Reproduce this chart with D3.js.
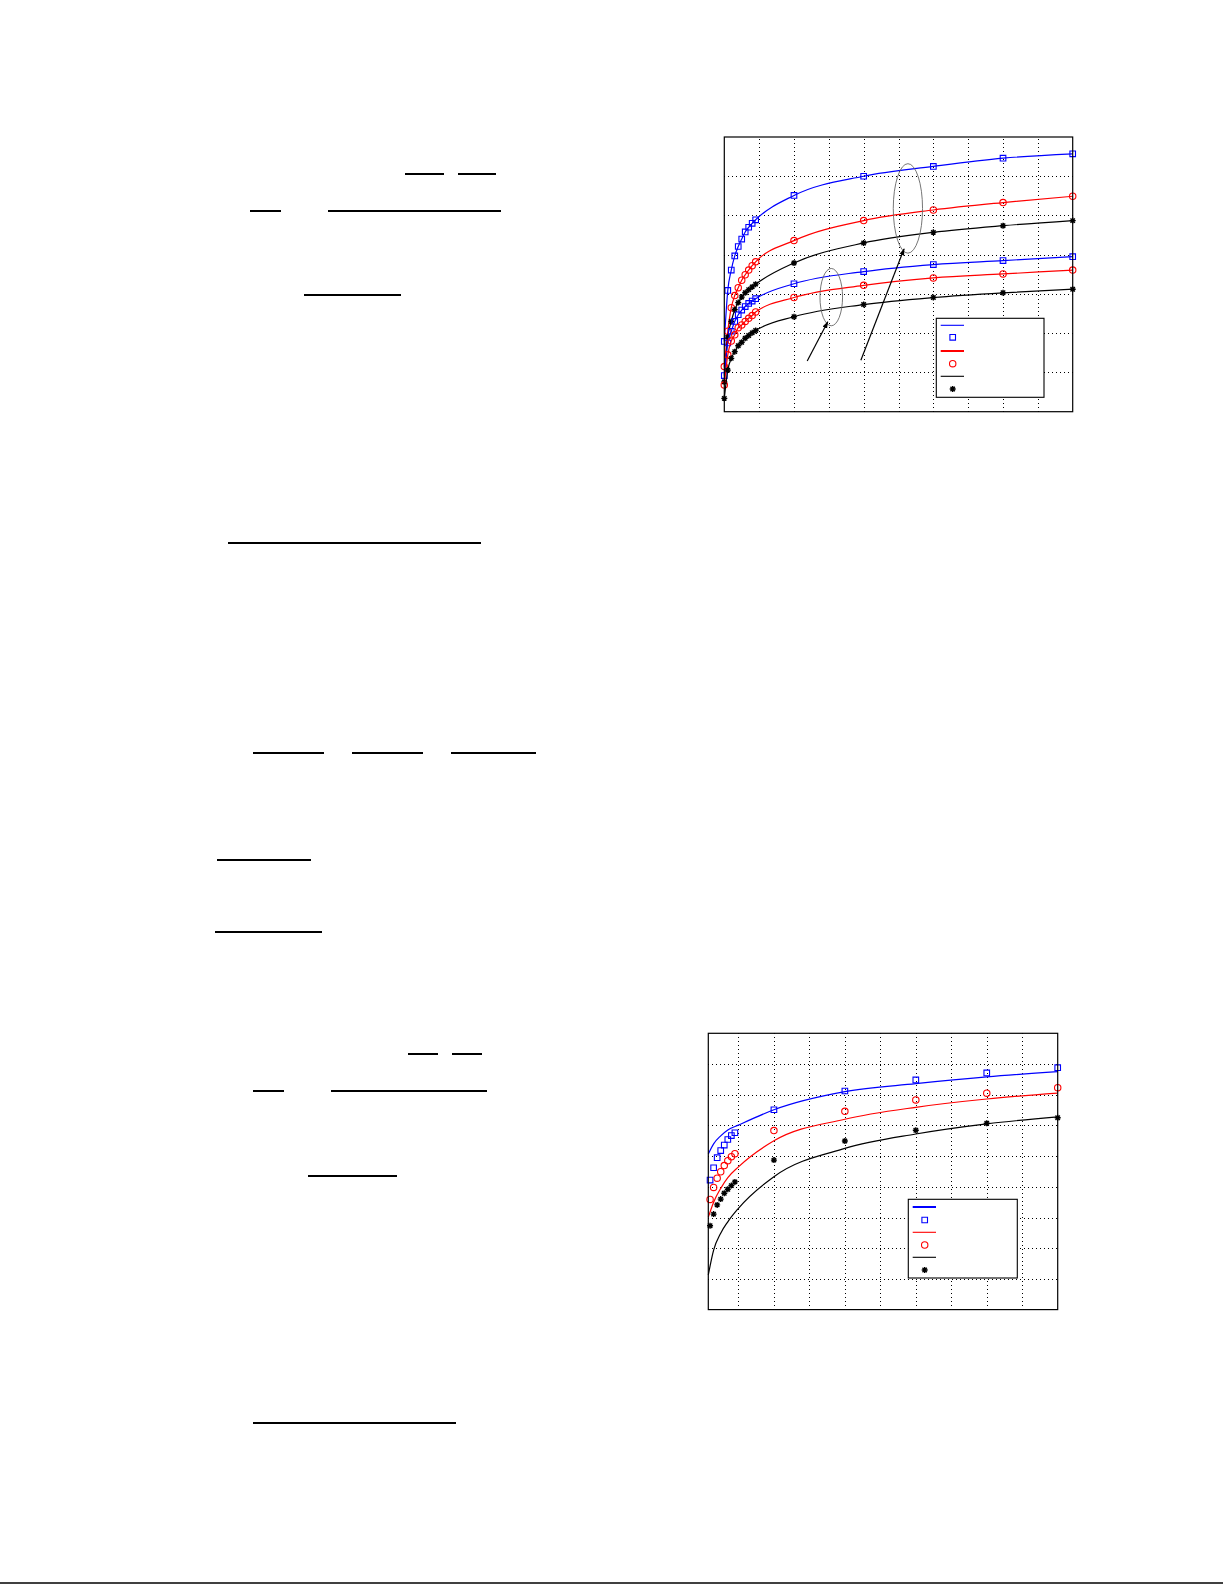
<!DOCTYPE html>
<html>
<head>
<meta charset="utf-8">
<script src="https://cdn.jsdelivr.net/npm/d3@7"></script>
<style>
html, body { margin: 0; padding: 0; background: #fff; }
#page { position: relative; width: 1225px; height: 1585px; overflow: hidden; }
.grid line { stroke: #000; stroke-width: 1; stroke-dasharray: 1,3; shape-rendering: crispEdges; }
.grid path { display: none; }
</style>
</head>
<body>
<div id="page"></div>
<script>
// upper figure: sample positions and the six curves (two groups of three)
const top_x = [0, 1, 2, 3, 4, 5, 6, 7, 8, 9, 20, 40, 60, 80, 100];
const top_blue_upper = [1.79, 3.09, 3.61, 3.97, 4.21, 4.40, 4.58, 4.70, 4.80, 4.89, 5.51, 6.00, 6.25, 6.46, 6.57];
const top_red_upper = [1.15, 2.05, 2.65, 2.96, 3.16, 3.35, 3.49, 3.61, 3.72, 3.82, 4.36, 4.87, 5.14, 5.33, 5.49];
const top_black_upper = [0.76, 1.90, 2.30, 2.60, 2.78, 2.92, 3.03, 3.11, 3.18, 3.25, 3.79, 4.30, 4.57, 4.74, 4.87];
const top_blue_lower = [0.92, 1.75, 2.05, 2.30, 2.47, 2.59, 2.68, 2.76, 2.82, 2.88, 3.26, 3.57, 3.75, 3.85, 3.95];
const top_red_lower = [0.68, 1.45, 1.80, 1.96, 2.14, 2.21, 2.30, 2.38, 2.45, 2.54, 2.91, 3.22, 3.41, 3.51, 3.61];
const top_black_lower = [0.34, 1.06, 1.36, 1.53, 1.68, 1.77, 1.87, 1.94, 2.01, 2.07, 2.42, 2.73, 2.91, 3.03, 3.12];
const top_x_ticks = [10, 20, 30, 40, 50, 60, 70, 80, 90];
const top_y_ticks = [1, 2, 3, 4, 5, 6];

// upper figure annotations, in data units
const top_ellipses = [
	{cx: 30.7, cy: 2.92, rx: 3.24, ry: 0.73},
	{cx: 52.7, cy: 5.18, rx: 4.2, ry: 1.14}
];
const top_arrows = [
	{x1: 23.8, y1: 1.29, x2: 29.7, y2: 2.29},
	{x1: 39.2, y1: 1.31, x2: 51.6, y2: 4.15}
];

// lower figure: simulated points and the model curves
const bot_x = [2, 3, 4, 5, 6, 7, 8, 9, 20, 40, 60, 80, 100];
const bot_blue = [4.22, 4.62, 4.95, 5.18, 5.36, 5.54, 5.67, 5.76, 6.51, 7.12, 7.48, 7.71, 7.88];
const bot_red = [3.59, 3.98, 4.28, 4.49, 4.69, 4.85, 4.98, 5.08, 5.83, 6.46, 6.83, 7.05, 7.23];
const bot_black = [2.73, 3.11, 3.41, 3.60, 3.79, 3.92, 4.04, 4.16, 4.87, 5.49, 5.84, 6.07, 6.25];
const bot_line_x = [1.5, 3, 5, 7, 10, 20, 40, 60, 80, 100];
const bot_blue_line = [5.07, 5.40, 5.66, 5.85, 6.01, 6.51, 7.10, 7.36, 7.58, 7.75];
const bot_red_line = [3.01, 3.50, 3.95, 4.30, 4.65, 5.50, 6.20, 6.59, 6.86, 7.05];
const bot_black_line = [1.13, 1.94, 2.49, 2.86, 3.30, 4.33, 5.25, 5.72, 6.05, 6.28];
const bot_x_ticks = [10, 20, 30, 40, 50, 60, 70, 80, 90];
const bot_y_ticks = [1, 2, 3, 4, 5, 6, 7, 8];

// fraction bars and the footer rule left on the page: [x1, x2, y, width]
const page_rules = [
	[405, 444, 174, 2], [458, 496, 174, 2], [250, 281, 211, 2], [328, 501, 211, 2],
	[304, 401, 295, 2], [228, 481, 543, 2], [253, 324, 753, 2], [352, 423, 753, 2],
	[451, 536, 753, 2], [217, 311, 860, 2], [215, 322, 932, 2], [408, 438, 1054, 2],
	[452, 482, 1054, 2], [253, 284, 1091, 2], [331, 487, 1091, 2], [308, 397, 1176, 2],
	[253, 456, 1423, 2], [0, 1223, 1583, 1.5]
];

const marker_path = {
	square: "M-2.8,-2.8h5.6v5.6h-5.6z",
	circle: "M3.2,0A3.2,3.2 0 1,1 -3.2,0A3.2,3.2 0 1,1 3.2,0",
	star: "M-3,0H3M0,-3V3M-2.2,-2.2L2.2,2.2M-2.2,2.2L2.2,-2.2"
};

var svg = d3.select("#page").append("svg")
	.attr("width", 1225)
	.attr("height", 1585);

svg.append("defs").append("marker")
	.attr("id", "arrowhead")
	.attr("viewBox", "0 0 10 10")
	.attr("refX", 9).attr("refY", 5)
	.attr("markerWidth", 6).attr("markerHeight", 6)
	.attr("orient", "auto")
	.append("path")
	.attr("d", "M0,1.5L10,5L0,8.5z")
	.attr("fill", "#000");

svg.selectAll("line.rule")
	.data(page_rules)
	.enter()
	.append("line")
	.attr("class", "rule")
	.attr("x1", d => d[0]).attr("x2", d => d[1])
	.attr("y1", d => d[2]).attr("y2", d => d[2])
	.attr("stroke", "#000")
	.attr("stroke-width", d => d[3]);

function draw_chart(cfg) {
	var g = svg.append("g").attr("transform", "translate(" + cfg.left + "," + cfg.top + ")");
	var x = d3.scaleLinear().domain(cfg.x_domain).range([0, cfg.width]);
	var y = d3.scaleLinear().domain(cfg.y_domain).range([cfg.height, 0]);

	g.append("g")
		.attr("class", "grid")
		.attr("transform", "translate(0," + cfg.height + ")")
		.call(d3.axisBottom(x).tickValues(cfg.x_ticks).tickSize(-cfg.height).tickFormat(""));
	g.append("g")
		.attr("class", "grid")
		.call(d3.axisLeft(y).tickValues(cfg.y_ticks).tickSize(-cfg.width).tickFormat(""));

	var line = d3.line()
		.curve(d3.curveMonotoneX)
		.x(d => x(d[0]))
		.y(d => y(d[1]));

	cfg.series.forEach(function (s) {
		g.append("path")
			.datum(d3.zip(s.line_x, s.line_y))
			.attr("fill", "none")
			.attr("stroke", s.color)
			.attr("stroke-width", 1.2)
			.attr("d", line);

		g.append("g").selectAll("path")
			.data(d3.zip(s.x, s.y))
			.enter()
			.append("path")
			.attr("transform", d => "translate(" + x(d[0]) + "," + y(d[1]) + ")")
			.attr("d", marker_path[s.marker])
			.attr("fill", "none")
			.attr("stroke", s.color)
			.attr("stroke-width", s.marker == "star" ? 1.4 : 1.1);
	});

	(cfg.ellipses || []).forEach(function (e) {
		g.append("ellipse")
			.attr("cx", x(e.cx)).attr("cy", y(e.cy))
			.attr("rx", x(e.cx + e.rx) - x(e.cx))
			.attr("ry", y(e.cy - e.ry) - y(e.cy))
			.attr("fill", "none")
			.attr("stroke", "#666")
			.attr("stroke-width", 0.9);
	});
	(cfg.arrows || []).forEach(function (a) {
		g.append("line")
			.attr("x1", x(a.x1)).attr("y1", y(a.y1))
			.attr("x2", x(a.x2)).attr("y2", y(a.y2))
			.attr("stroke", "#000")
			.attr("stroke-width", 1.2)
			.attr("marker-end", "url(#arrowhead)");
	});

	g.append("rect")
		.attr("width", cfg.width)
		.attr("height", cfg.height)
		.attr("fill", "none")
		.attr("stroke", "#000")
		.attr("stroke-width", 1.2);

	// legend box, entries without labels as on the page
	var lg = cfg.legend;
	var lx = cfg.width - lg.right - lg.width,
		ly = cfg.height - lg.bottom - lg.height;
	var legend = g.append("g").attr("transform", "translate(" + lx + "," + ly + ")");
	legend.append("rect")
		.attr("width", lg.width).attr("height", lg.height)
		.attr("fill", "#fff").attr("stroke", "#000").attr("stroke-width", 1.1);
	cfg.series.slice(0, 3).forEach(function (s, i) {
		var row_line = lg.rows[i * 2], row_mark = lg.rows[i * 2 + 1];
		legend.append("line")
			.attr("x1", 4.4).attr("x2", 27.7)
			.attr("y1", row_line).attr("y2", row_line)
			.attr("stroke", s.color)
			.attr("stroke-width", lg.line_widths[i]);
		legend.append("path")
			.attr("transform", "translate(16.4," + row_mark + ")")
			.attr("d", marker_path[s.marker])
			.attr("fill", "none")
			.attr("stroke", s.color)
			.attr("stroke-width", s.marker == "star" ? 1.4 : 1.1);
	});
}

draw_chart({
	left: 724.3, top: 137, width: 348.4, height: 274.7,
	x_domain: [0, 100], y_domain: [0, 7],
	x_ticks: top_x_ticks, y_ticks: top_y_ticks,
	series: [
		{x: top_x, y: top_blue_upper, line_x: top_x, line_y: top_blue_upper, color: "#0000ff", marker: "square"},
		{x: top_x, y: top_red_upper, line_x: top_x, line_y: top_red_upper, color: "#ff0000", marker: "circle"},
		{x: top_x, y: top_black_upper, line_x: top_x, line_y: top_black_upper, color: "#000000", marker: "star"},
		{x: top_x, y: top_blue_lower, line_x: top_x, line_y: top_blue_lower, color: "#0000ff", marker: "square"},
		{x: top_x, y: top_red_lower, line_x: top_x, line_y: top_red_lower, color: "#ff0000", marker: "circle"},
		{x: top_x, y: top_black_lower, line_x: top_x, line_y: top_black_lower, color: "#000000", marker: "star"}
	],
	ellipses: top_ellipses,
	arrows: top_arrows,
	legend: {right: 28.7, bottom: 14.4, width: 107.7, height: 79,
		rows: [7, 19, 32.7, 45.4, 58, 70.7], line_widths: [1.1, 2, 1.1]}
});

draw_chart({
	left: 708.3, top: 1033.3, width: 349.4, height: 276.3,
	x_domain: [1.5, 100], y_domain: [0, 9],
	x_ticks: bot_x_ticks, y_ticks: bot_y_ticks,
	series: [
		{x: bot_x, y: bot_blue, line_x: bot_line_x, line_y: bot_blue_line, color: "#0000ff", marker: "square"},
		{x: bot_x, y: bot_red, line_x: bot_line_x, line_y: bot_red_line, color: "#ff0000", marker: "circle"},
		{x: bot_x, y: bot_black, line_x: bot_line_x, line_y: bot_black_line, color: "#000000", marker: "star"}
	],
	legend: {right: 40.4, bottom: 31.6, width: 109, height: 78.7,
		rows: [7.7, 20.7, 33, 45.7, 58, 70.7], line_widths: [2, 1.1, 1.1]}
});
</script>
</body>
</html>
